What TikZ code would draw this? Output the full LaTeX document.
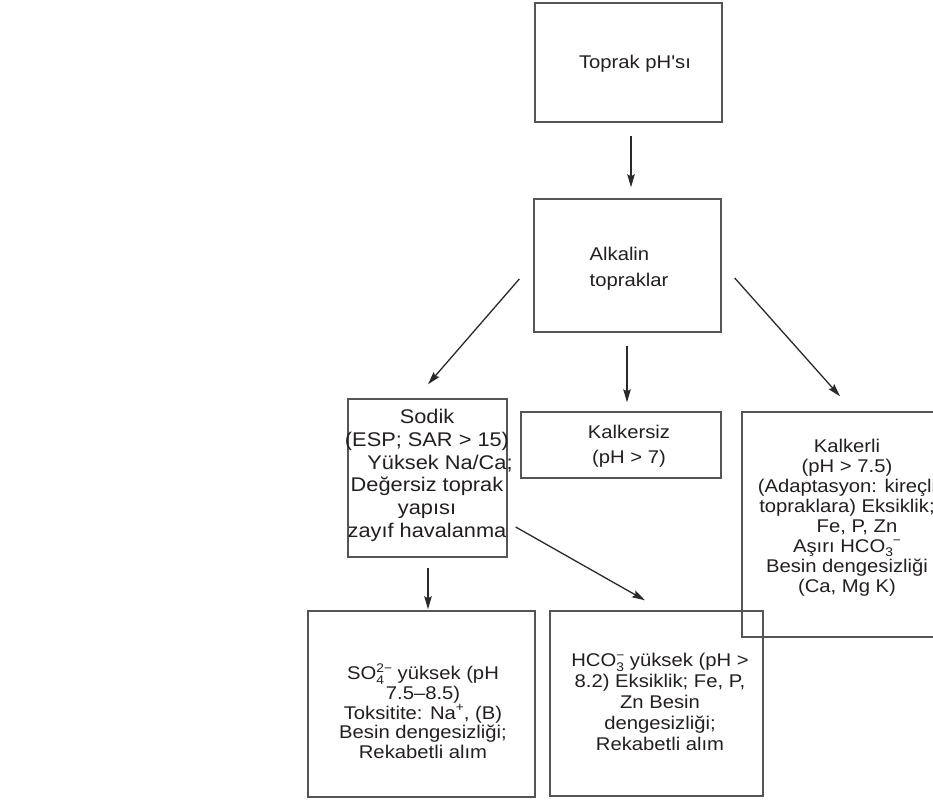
\documentclass[tikz,border=0pt]{standalone}
\usepackage{fontspec}
\setmainfont{Liberation Sans}[FakeStretch=1.1,Ligatures=TeXOff]
\usetikzlibrary{arrows.meta,calc}
\definecolor{boxc}{HTML}{555555}
\definecolor{txtc}{HTML}{231F20}
\definecolor{arrc}{HTML}{2A2A2A}
\newcommand\scr[1]{{\fontsize{12.5}{12.5}\selectfont #1}}
\newcommand\stackss[2]{\rlap{\raisebox{-0.45ex}{\scr{#1}}}\raisebox{0.8ex}{\scr{#2}}}
\begin{document}
\begin{tikzpicture}[x=1pt,y=-1pt,
  box/.style={draw=boxc,line width=1.4pt,inner sep=0pt},
  txt/.style={text=txtc,align=center,inner sep=0pt},
  arr/.style={draw=arrc,line width=1.3pt,-{Stealth[length=13pt,width=7.5pt,inset=2pt]}}]
\path[use as bounding box,fill=white] (0,0) rectangle (933,800);
\clip (0,0) rectangle (933,800);
% boxes
\node[box,minimum width=187pt,minimum height=119pt] (top) at (628.5,62.5) {};
\node[box,minimum width=187pt,minimum height=133pt] (alk) at (627.5,265.5) {};
\node[box,minimum width=159pt,minimum height=158pt] (sodik) at (427.5,478) {};
\node[box,minimum width=200pt,minimum height=66pt] (kalkersiz) at (621,445) {};
\node[box,minimum width=213pt,minimum height=225pt] (kalkerli) at (848.5,524.5) {};
\node[box,minimum width=227pt,minimum height=186pt] (bl) at (421.5,704) {};
\node[box,minimum width=213pt,minimum height=185pt] (br) at (656.5,703.5) {};
% texts
\node[txt,font=\fontsize{18.4}{20}\selectfont] (ttop) at (635,64) {Toprak pH'sı};
\node[txt,align=left,font=\fontsize{18.4}{26}\selectfont] (talk) at (629,269) {Alkalin\\topraklar};
\node[txt,font=\fontsize{18.4}{25}\selectfont] (tkalkersiz) at (629,446) {Kalkersiz\\(pH > 7)};
\node[txt,font=\fontsize{19.8}{22.7}\selectfont] (tsodik) at (427,475.5) {Sodik\\(ESP; SAR > 15)\\\hspace*{26pt}Yüksek Na/Ca;\\Değersiz toprak\\yapısı\hspace*{34pt}\\zayıf havalanma};
\node[txt,font=\fontsize{18.4}{20}\selectfont] (tkalkerli) at (847,517.5) {Kalkerli\\(pH > 7.5)\\(Adaptasyon: kireçli\\topraklara) Eksiklik;\\\hspace*{20pt}Fe, P, Zn\\Aşırı HCO\raisebox{-0.45ex}{\scr{3}}\raisebox{0.8ex}{\scr{−}}\\Besin dengesizliği\\(Ca, Mg K)};
\node[txt,font=\fontsize{18.4}{19.6}\selectfont] (tbl) at (423,711) {SO\stackss{4}{2−} yüksek (pH\\7.5–8.5)\\Toksitite: Na\raisebox{0.8ex}{\scr{+}}, (B)\\Besin dengesizliği;\\Rekabetli alım};
\node[txt,font=\fontsize{18.4}{20.8}\selectfont] (tbr) at (660,702) {HCO\stackss{3}{−} yüksek (pH >\\8.2) Eksiklik; Fe, P,\\Zn Besin\\dengesizliği;\\Rekabetli alım};
% arrows
\draw[arr] ([shift={(2.5,13)}]top.south) -- ([shift={(3.5,-11)}]alk.north);
\draw[arr] ([shift={(-14,13.5)}]alk.west) -- ([shift={(0.5,-14)}]sodik.north);
\draw[arr] ([shift={(-0.5,13)}]alk.south) -- ([shift={(6,-9)}]kalkersiz.north);
\draw[arr] ([shift={(13,12.5)}]alk.east) -- ([shift={(-8.5,-15)}]kalkerli.north);
\draw[arr] ([shift={(0.5,10)}]sodik.south) -- ([shift={(6.5,-1)}]bl.north);
\draw[arr] ([shift={(8,49)}]sodik.east) -- ([shift={(-11.5,-10)}]br.north);
\end{tikzpicture}
\end{document}
